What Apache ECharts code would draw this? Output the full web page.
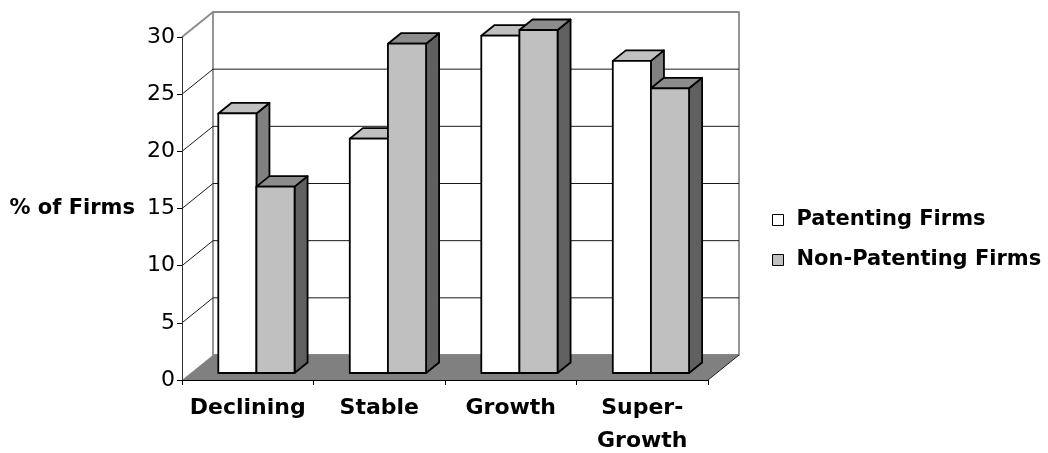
<!DOCTYPE html>
<html>
<head>
<meta charset="utf-8">
<title>Share of firms by growth class</title>
<script src="https://cdn.jsdelivr.net/npm/echarts@6/dist/echarts.min.js"></script>
<style>
  html, body { margin: 0; padding: 0; background: #fff; }
  #chart { width: 1048px; height: 453px; }
</style>
</head>
<body>
<div id="chart"></div>
<script>
// ---- data ----
const categories = ['Declining', 'Stable', 'Growth', 'Super-\nGrowth'];
const seriesNames = ['Patenting Firms', 'Non-Patenting Firms'];
const patenting = [22.7, 20.5, 29.5, 27.3];
const nonPatenting = [16.3, 28.8, 30.0, 24.9];
const yTicks = [0, 5, 10, 15, 20, 25, 30];

// ---- 3D look ----
const FONT = '"DejaVu Sans", "Liberation Sans", Arial, sans-serif';
const DEPTH = [31, -25];           // pixel offset from the front plane to the back wall
const BAR_FRONT = 0.28;            // depth fraction where the bar front face sits
const BAR_BACK = 0.70;             // depth fraction where the bar back face sits
const BAR_WIDTH = 0.29;            // share of a category band taken by one bar
const BAR_EDGE = 1.8;              // outline width of the bar faces
const barFaces = [
  { front: '#ffffff', top: '#c0c0c0', side: '#808080' },
  { front: '#c0c0c0', top: '#8c8c8c', side: '#606060' }
];

function shift(p, f) {
  return [p[0] + DEPTH[0] * f, p[1] + DEPTH[1] * f];
}

function poly(points, fill, stroke, lw) {
  return {
    type: 'polygon',
    shape: { points: points },
    style: { fill: fill, stroke: stroke || null, lineWidth: lw || 0, lineJoin: 'round' }
  };
}

function line(a, b, color, lw) {
  return {
    type: 'line',
    shape: { x1: a[0], y1: a[1], x2: b[0], y2: b[1] },
    style: { stroke: color, lineWidth: lw }
  };
}

// back wall, side wall gridlines and floor
function renderWalls(params, api) {
  const cs = params.coordSys;
  const x0 = cs.x, x1 = cs.x + cs.width;
  const yMin = yTicks[0], yMax = yTicks[yTicks.length - 1];
  const y = v => api.coord([0, v])[1];
  const kids = [];
  kids.push(poly([
    shift([x0, y(yMax)], 1), shift([x1, y(yMax)], 1),
    shift([x1, y(yMin)], 1), shift([x0, y(yMin)], 1)
  ], '#ffffff', '#8a8a8a', 1.8));
  yTicks.forEach(v => {
    if (v === yMin) return;
    const front = [x0, y(v)];
    if (v !== yMax) {
      kids.push(line(shift([x0, y(v)], 1), shift([x1, y(v)], 1), '#1a1a1a', 1));
      kids.push(line(front, shift(front, 1), '#1a1a1a', 1));
    } else {
      kids.push(line(front, shift(front, 1), '#8a8a8a', 1.8));
    }
  });
  const f0 = [x0, y(yMin)], f1 = [x1, y(yMin)];
  kids.push(poly([f0, f1, shift(f1, 1), shift(f0, 1)], '#808080'));
  kids.push(line(f1, shift(f1, 1), '#222', 1));
  return { type: 'group', children: kids };
}

// one 3D bar: side face, top face, front face
function makeBarRenderer(idx) {
  const faces = barFaces[idx];
  return function (params, api) {
    const cat = api.value(0), val = api.value(1);
    const topPt = api.coord([cat, val]);
    const basePt = api.coord([cat, 0]);
    const band = api.size([1, 0])[0];
    const w = band * BAR_WIDTH;
    const xl = topPt[0] + (idx - 1) * w;
    const xr = xl + w;
    const d = BAR_BACK - BAR_FRONT;
    const tl = shift([xl, topPt[1]], BAR_FRONT);
    const tr = shift([xr, topPt[1]], BAR_FRONT);
    const br = shift([xr, basePt[1]], BAR_FRONT);
    const bl = shift([xl, basePt[1]], BAR_FRONT);
    const btl = shift(tl, d), btr = shift(tr, d), bbr = shift(br, d);
    return {
      type: 'group',
      children: [
        poly([tr, btr, bbr, br], faces.side, '#000', BAR_EDGE),
        poly([tl, tr, btr, btl], faces.top, '#000', BAR_EDGE),
        poly([tl, tr, br, bl], faces.front, '#000', BAR_EDGE)
      ]
    };
  };
}

const chart = echarts.init(document.getElementById('chart'), null, { renderer: 'canvas' });

chart.setOption({
  backgroundColor: '#ffffff',
  animation: false,
  textStyle: { fontFamily: FONT },
  grid: { left: 182, right: 340, top: 37, bottom: 73, outerBoundsMode: 'none', containLabel: false },
  legend: {
    data: seriesNames,
    orient: 'vertical',
    left: 767,
    top: 203,
    itemWidth: 11,
    itemHeight: 11,
    itemGap: 16,
    icon: 'rect',
    selectedMode: false,
    itemStyle: { borderColor: '#000', borderWidth: 1 },
    textStyle: {
      fontFamily: FONT, fontSize: 21, fontWeight: 'bold', color: '#000',
      lineHeight: 24, padding: [0, 0, 0, 8]
    }
  },
  xAxis: {
    type: 'category',
    data: categories,
    z: 5,
    axisLine: { lineStyle: { color: '#000', width: 1 } },
    axisTick: { show: true, length: 5, lineStyle: { color: '#000' } },
    axisLabel: {
      margin: 12, fontFamily: FONT, fontSize: 22, fontWeight: 'bold',
      color: '#000', lineHeight: 33, interval: 0
    },
    splitLine: { show: false }
  },
  yAxis: {
    type: 'value',
    min: 0, max: 30, interval: 5,
    z: 5,
    name: '% of Firms',
    nameLocation: 'middle',
    nameRotate: 0,
    nameGap: 47,
    nameTextStyle: { fontFamily: FONT, fontSize: 21, fontWeight: 'bold', color: '#000' },
    axisLine: { show: true, lineStyle: { color: '#333', width: 1 } },
    axisTick: { show: true, length: 5, lineStyle: { color: '#000' } },
    axisLabel: { margin: 7, fontFamily: FONT, fontSize: 22, color: '#000' },
    splitLine: { show: false }
  },
  series: [
    {
      type: 'custom',
      z: 1,
      silent: true,
      clip: false,
      renderItem: renderWalls,
      data: [[0, 0]]
    },
    {
      name: seriesNames[0],
      type: 'custom',
      z: 2,
      clip: false,
      itemStyle: { color: barFaces[0].front, borderColor: '#000' },
      renderItem: makeBarRenderer(0),
      data: patenting.map((v, i) => [i, v])
    },
    {
      name: seriesNames[1],
      type: 'custom',
      z: 3,
      clip: false,
      itemStyle: { color: barFaces[1].front, borderColor: '#000' },
      renderItem: makeBarRenderer(1),
      data: nonPatenting.map((v, i) => [i, v])
    }
  ]
});
</script>
</body>
</html>
